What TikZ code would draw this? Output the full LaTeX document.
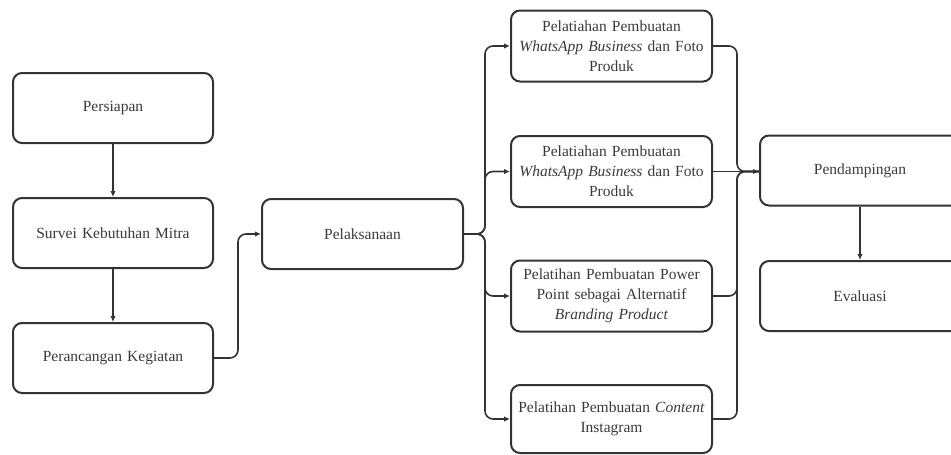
\documentclass[tikz,border=0pt]{standalone}
\usepackage{fontspec}
\setmainfont{Liberation Serif}
\usetikzlibrary{arrows.meta}
\definecolor{ln}{HTML}{333333}
\definecolor{tx}{HTML}{3A3A3A}
\hyphenpenalty=10000
\exhyphenpenalty=10000
\newcommand\bxfont{\fontsize{15.5}{20}\selectfont}
\begin{document}
\begin{tikzpicture}[x=1pt,y=-1pt,
  box/.style={draw=ln,line width=2pt,rounded corners=9pt,minimum width=200pt,minimum height=70pt,
    align=center,text width=196pt,text=tx,font=\bxfont,inner sep=0pt},
  conn/.style={draw=ln,line width=1.6pt,rounded corners=8pt},
  arr/.style={conn,-{Latex[length=6pt,width=5.5pt]}}]
\useasboundingbox (0,0) rectangle (951,455);
\begin{scope}
\clip (0,0) rectangle (951,455);
\node[box] (p1) at (113,108) {Persiapan};
\node[box] (p2) at (113,233) {Survei Kebutuhan Mitra};
\node[box] (p3) at (113,358) {Perancangan Kegiatan};
\node[box,minimum width=201pt] (pel) at (362.5,234) {Pelaksanaan};
\node[box,minimum width=201pt,minimum height=71pt] (m1) at (611.5,46) {Pelatiahan Pembuatan\\\textit{WhatsApp Business} dan Foto\\Produk};
\node[box,minimum width=201pt,minimum height=71pt] (m2) at (611.5,171.5) {Pelatiahan Pembuatan\\\textit{WhatsApp Business} dan Foto\\Produk};
\node[box,minimum width=201pt,minimum height=71pt] (m3) at (611.5,296) {Pelatihan Pembuatan Power\\Point sebagai Alternatif\\\textit{Branding Product}};
\node[box,minimum width=201pt,minimum height=68pt] (m4) at (611.5,419) {Pelatihan Pembuatan \textit{Content}\\Instagram};
\node[box] (pend) at (860,170.5) {Pendampingan};
\node[box] (ev) at (860,296) {Evaluasi};

\coordinate (bl) at (485,234);
\coordinate (br) at (737,171.5);

\draw[arr] (p1) -- (p2);
\draw[arr] (p2) -- (p3);
\draw[arr] (p3.east) -- ++(24,0) |- (pel.west);
\draw[arr] (pel.east) -- (bl) |- (m1.west);
\draw[arr] (pel.east) -- (bl) |- (m2.west);
\draw[arr] (pel.east) -- (bl) |- (m3.west);
\draw[arr] (pel.east) -- (bl) |- (m4.west);
\draw[conn] (m1.east) -| (br) -- (br -| pend.west);
\draw[arr] (m2.east) -- (m2.east -| pend.west);
\draw[conn] (m3.east) -| (br) -- (br -| pend.west);
\draw[conn] (m4.east) -| (br) -- (br -| pend.west);
\draw[arr] (pend) -- (ev);
\end{scope}
\end{tikzpicture}
\end{document}
